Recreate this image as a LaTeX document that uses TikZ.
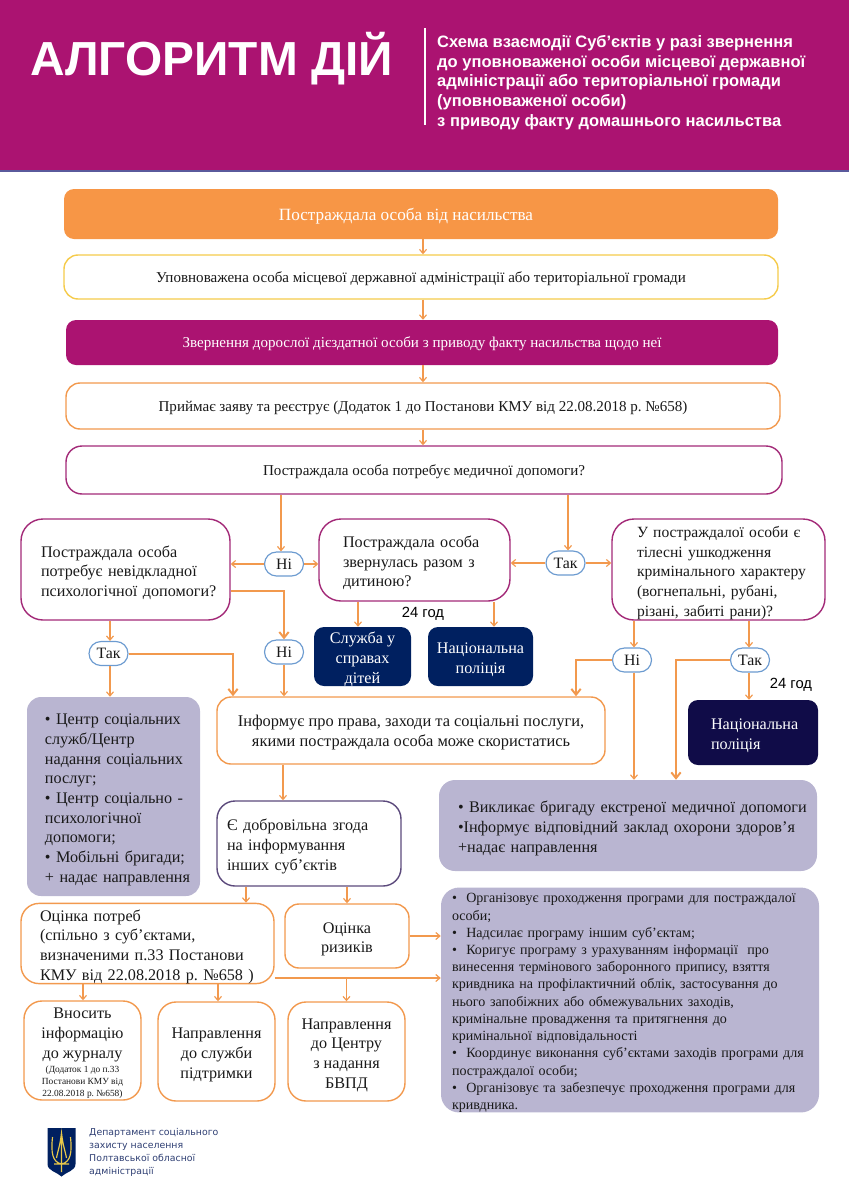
\documentclass[tikz,border=0pt]{standalone}
\usepackage{fontspec}
\setmainfont{Liberation Serif}
\setsansfont{Liberation Sans}
\newfontfamily\logofont{DejaVu Sans}
\usetikzlibrary{arrows.meta}
\definecolor{magentaHead}{HTML}{AB1371}
\definecolor{headLine}{HTML}{5A5A9C}
\definecolor{orangeLine}{HTML}{F2994E}
\definecolor{orangeFill}{HTML}{F79646}
\definecolor{yellowLine}{HTML}{F5CB4B}
\definecolor{pinkLine}{HTML}{A32A78}
\definecolor{purpleLine}{HTML}{5C4A7C}
\definecolor{blueLine}{HTML}{6C9BD0}
\definecolor{lavender}{HTML}{B9B5D1}
\definecolor{navyBox}{HTML}{002060}
\definecolor{inkBox}{HTML}{100C48}
\definecolor{logoText}{HTML}{2F3F73}
\definecolor{goldLine}{HTML}{E8C84A}
\newdimen\pxd
\pxd=0.03cm
\def\px{0.03cm}
\def\lowtext{\rule{0pt}{12pt}}
\tikzset{
	boxsize/.style 2 args={minimum width=#1*\px, minimum height=#2*\px},
	textpad/.style 2 args={inner xsep=0pt, text depth={}, text width=#2*\px, execute at begin node={\leftskip=#1\pxd\rightskip=0pt plus 1fil\parindent=0pt\vskip-2\pxd}},
	basebox/.style={inner sep=0pt, align=center, text=black!90, text depth=0pt, font=\fontsize{13.8}{16.8}\selectfont\frenchspacing},
	widebox/.style={font=\fontsize{12.85}{16.8}\selectfont\frenchspacing},
	orangebox/.style={basebox, draw=orangeLine, fill=white, line width=1.2pt, rounded corners=14*\px},
	pinkbox/.style={basebox, draw=pinkLine, fill=white, line width=1.2pt, rounded corners=16*\px},
	filledbox/.style={basebox, fill=#1, text=white, rounded corners=10*\px},
	greybox/.style={basebox, fill=lavender, rounded corners=14*\px},
	pill/.style={basebox, draw=blueLine, fill=white, line width=1pt, rounded corners=12*\px, minimum width=39*\px, minimum height=24*\px, font=\fontsize{13.5}{16}\selectfont},
	arr/.style={draw=orangeLine, line width=1pt, -{Straight Barb[length=3.5pt,width=6pt]}},
	thickarr/.style={draw=orangeLine, line width=1.7pt, -{Straight Barb[length=5pt,width=8pt]}},
	hours/.style={inner sep=0pt, font=\sffamily\fontsize{12.6}{14}\selectfont}
}
\begin{document}
\begin{tikzpicture}[x=0.03cm,y=-0.03cm]
	\useasboundingbox (0,0) rectangle (849,1200);

	% Header
	\fill[magentaHead] (0,0) rectangle (849,170);
	\fill[headLine] (0,170) rectangle (849,171.5);
	\node[anchor=west, inner sep=0pt, text=white, font=\sffamily\bfseries\fontsize{40.8}{46}\selectfont] (title) at (30,59) {АЛГОРИТМ ДІЙ};
	\draw[white, line width=2.2pt] (425,28) -- (425,125);
	\node[anchor=west, inner sep=0pt, text=white, align=left, font=\sffamily\bfseries\fontsize{14.1}{16.8}\selectfont] (subtitle) at (437,82.5) {Схема взаємодії Суб’єктів у разі звернення\\до уповноваженої особи місцевої державної\\адміністрації або територіальної громади\\(уповноваженої особи)\\з приводу факту домашнього насильства};

	% Верхні блоки
	\node[filledbox=orangeFill, boxsize={714}{50}, font=\fontsize{14.65}{17}\selectfont] (victim) at (421,214) {\hspace*{-30\pxd}Постраждала особа від насильства};
	\node[orangebox, widebox, draw=yellowLine, boxsize={714}{44}] (auth) at (421,277) {Уповноважена особа місцевої державної адміністрації або територіальної громади};
	\node[filledbox=magentaHead, widebox, boxsize={712}{45}] (appeal) at (422,342.5) {Звернення дорослої дієздатної особи з приводу факту насильства щодо неї};
	\node[orangebox, widebox, boxsize={714}{46}] (accept) at (423,406) {Приймає заяву та реєструє (Додаток 1 до Постанови КМУ від 22.08.2018 р. №658)};
	\node[pinkbox, widebox, boxsize={716}{48}] (medq) at (424,470) {Постраждала особа потребує медичної допомоги?};

	% Питання
	\node[pinkbox, rounded corners=22*\px, boxsize={209}{101}, textpad={20}{209}] (urgent) at (125.5,569.5) {Постраждала особа\\потребує невідкладної\\психологічної допомоги?};
	\node[pinkbox, rounded corners=22*\px, boxsize={191}{82}, textpad={24}{191}] (child) at (414.5,560) {Постраждала особа\\звернулась разом з\\дитиною?};
	\node[pinkbox, rounded corners=22*\px, boxsize={213}{101}, textpad={25}{213}, font=\fontsize{13.3}{16.8}\selectfont\frenchspacing] (wounds) at (718.5,569.5) {У постраждалої особи є\\тілесні ушкодження\\кримінального характеру\\(вогнепальні, рубані,\\різані, забиті рани)?};

	\node[pill] (no1) at (284,564) {Ні};
	\node[pill] (yes1) at (565.5,563) {Так};
	\node[pill] (yes2) at (108.5,653.5) {Так};
	\node[pill] (no2) at (284,652) {Ні};
	\node[pill] (no3) at (632,660) {Ні};
	\node[pill] (yes3) at (750,660) {Так};

	% Служби
	\node[filledbox=navyBox, boxsize={97}{59}] (childsrv) at (362.5,656.5) {\lowtext Служба у\\справах\\дітей};
	\node[filledbox=navyBox, boxsize={105}{59}] (police1) at (480.5,656.5) {\lowtext Національна\\поліція};
	\node[filledbox=inkBox, boxsize={130}{65}, textpad={23}{130}] (police2) at (753,732.5) {Національна\\поліція};
	\node[hours] (h1) at (423,614) {24 год};
	\node[hours] (h2) at (791,685) {24 год};

	% Середина
	\node[greybox, boxsize={173}{199}, textpad={18}{173}] (services) at (113.5,796.5) {• Центр соціальних\\служб/Центр\\надання соціальних\\послуг;\\• Центр соціально -\\психологічної\\допомоги;\\• Мобільні бригади;\\+ надає направлення};
	\node[orangebox, boxsize={388}{67}, font=\fontsize{14}{16.8}\selectfont\frenchspacing] (inform) at (411,730.5) {Інформує про права, заходи та соціальні послуги,\\якими постраждала особа може скористатись};
	\node[orangebox, draw=purpleLine, rounded corners=18*\px, boxsize={184}{85}, textpad={10}{184}] (consent) at (309,843.5) {Є добровільна згода\\на інформування\\інших суб’єктів};
	\node[greybox, rounded corners=16*\px, boxsize={378}{91}, textpad={19}{378}] (ambul) at (628,825.5) {• Викликає бригаду екстреної медичної допомоги\\•Інформує відповідний заклад охорони здоров’я\\+надає направлення};

	% Низ
	\node[orangebox, rounded corners=18*\px, boxsize={253}{79}, textpad={19}{253}] (needs) at (147.5,943.5) {Оцінка потреб\\(спільно з суб’єктами,\\визначеними п.33 Постанови\\КМУ від 22.08.2018 р. №658 )};
	\node[orangebox, boxsize={124}{64}] (risk) at (347,936) {\lowtext Оцінка\\ризиків};
	\node[greybox, rounded corners=18*\px, boxsize={378}{224}, textpad={11}{378}, font=\fontsize{12}{14.7}\selectfont\frenchspacing] (prog) at (630,1000) {•\ \ Організовує проходження програми для постраждалої\\особи;\\•\ \ Надсилає програму іншим суб’єктам;\\•\ \ Коригує програму з урахуванням інформації\ \ про\\винесення термінового заборонного припису, взяття\\кривдника на профілактичний облік, застосування до\\нього запобіжних або обмежувальних заходів,\\кримінальне провадження та притягнення до\\кримінальної відповідальності\\•\ \ Координує виконання суб’єктами заходів програми для\\постраждалої особи;\\•\ \ Організовує та забезпечує проходження програми для\\кривдника.};
	\node[orangebox, rounded corners=18*\px, boxsize={117}{99}] (journal) at (82.5,1050.5) {\lowtext Вносить\\інформацію\\до журналу\\[-4.7pt]{\fontsize{8}{9.8}\selectfont (Додаток 1 до п.33}\\[-6.5pt]{\fontsize{8}{9.8}\selectfont Постанови КМУ від}\\[-6.5pt]{\fontsize{8}{9.8}\selectfont 22.08.2018 р. №658)}};
	\node[orangebox, rounded corners=18*\px, boxsize={117}{99}] (support) at (216.5,1051.5) {\lowtext Направлення\\до служби\\підтримки};
	\node[orangebox, rounded corners=18*\px, boxsize={117}{99}] (center) at (346.5,1051.5) {\lowtext Направлення\\до Центру\\з надання\\БВПД};

	% Стрілки
	\draw[arr] (victim.south -| 423,0) -- (auth.north -| 423,0);
	\draw[arr] (auth.south -| 423,0) -- (appeal.north -| 423,0);
	\draw[arr] (appeal.south -| 423,0) -- (accept.north -| 423,0);
	\draw[arr] (accept.south -| 423,0) -- (medq.north -| 423,0);
	\draw[arr] (medq.south -| 281,0) -- (no1.north -| 281,0);
	\draw[arr] (medq.south -| 568,0) -- (yes1.north -| 568,0);
	\draw[arr] (no1.west) -- (urgent.east |- no1.west);
	\draw[arr] (no1.east) -- (child.west |- no1.east);
	\draw[arr] (yes1.west) -- (child.east |- yes1.west);
	\draw[arr] (yes1.east) -- (wounds.west |- yes1.east);
	\draw[arr] (child.south -| 358,0) -- (childsrv.north -| 358,0);
	\draw[arr] (child.south -| 494,0) -- (police1.north -| 494,0);
	\draw[arr] (urgent.south -| 110,0) -- (yes2.north -| 110,0);
	\draw[arr] (yes2.south -| 110,0) -- (services.north -| 110,0);
	\draw[thickarr] (urgent.east |- 0,591) -| (no2.north);
	\draw[arr] (no2.south) -- (inform.north -| no2.south);
	\draw[thickarr] (yes2.east) -| (inform.north -| 233,0);
	\draw[arr] (wounds.south -| 634,0) -- (no3.north -| 634,0);
	\draw[arr] (wounds.south -| 749,0) -- (yes3.north -| 749,0);
	\draw[thickarr] (no3.west) -| (inform.north -| 576,0);
	\draw[arr] (no3.south -| 634,0) -- (ambul.north -| 634,0);
	\draw[arr] (yes3.south -| 749,0) -- (police2.north -| 749,0);
	\draw[thickarr] (yes3.west) -| (ambul.north -| 676,0);
	\draw[arr] (inform.south -| 283,0) -- (consent.north -| 283,0);
	\draw[arr] (consent.south -| 246,0) -- (needs.north -| 246,0);
	\draw[arr] (consent.south -| 347,0) -- (risk.north -| 347,0);
	\draw[arr] (needs.south -| 83,0) -- (journal.north -| 83,0);
	\draw[arr] (needs.south -| 218,0) -- (support.north -| 218,0);
	\draw[arr] (needs.east |- 0,978) -- (prog.west |- 0,978);
	\draw[arr] (risk.east) -- (prog.west |- risk.east);
	\draw[arr] (center.north |- 0,978) -- (center.north);

	% Герб
	\fill[navyBox] (47.5,1128) -- (75.5,1128) -- (75.5,1164) .. controls (75.5,1171) and (66,1172) .. (61.5,1176.5) .. controls (57,1172) and (47.5,1171) .. (47.5,1164) -- cycle;
	\draw[goldLine, line width=1pt] (61.5,1133) -- (61.5,1172) (52.5,1137) .. controls (51,1152) and (52,1162) .. (61.5,1164) .. controls (71,1162) and (72,1152) .. (70.5,1137) (56.5,1158) .. controls (58,1150) and (60,1146) .. (61.5,1133) .. controls (63,1146) and (65,1150) .. (66.5,1158) (54,1164) -- (69,1164);
	\node[anchor=west, inner sep=0pt, text=logoText, align=left, font=\logofont\fontsize{8}{11}\selectfont] (dept) at (89,1152.5) {Департамент соціального\\захисту населення\\Полтавської обласної\\адміністрації};
\end{tikzpicture}
\end{document}
